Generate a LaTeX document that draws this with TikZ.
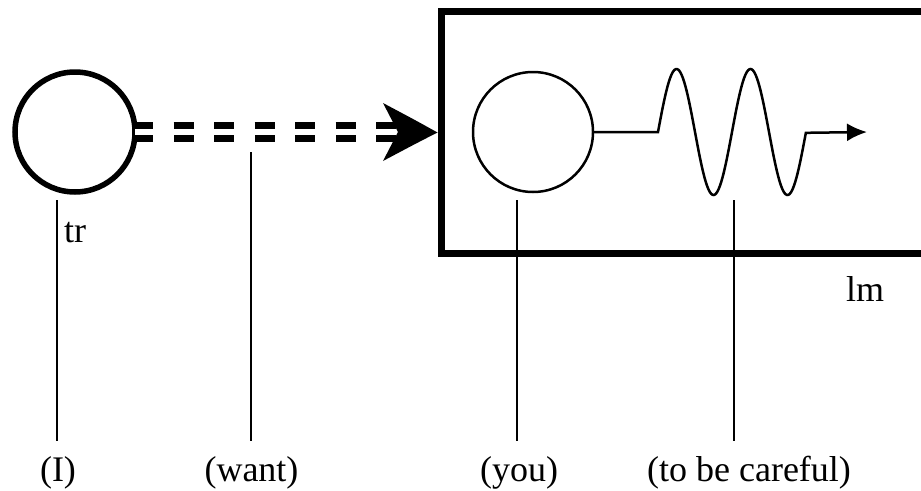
\documentclass[tikz,border=0pt]{standalone}
\usepackage{fontspec}
\setmainfont{Liberation Serif}
\usetikzlibrary{arrows.meta}
\begin{document}
\begin{tikzpicture}[x=1pt,y=-1pt,
  txt/.style={font=\fontsize{36}{40}\selectfont, inner sep=0pt},
  lab/.style={txt, anchor=base},
  leader/.style={line width=1.5pt},
  bigcirc/.style={circle, draw, line width=5.5pt, minimum size=120pt, inner sep=0pt, outer sep=0pt},
  smallcirc/.style={circle, draw, line width=2.5pt, minimum size=120pt, inner sep=0pt, outer sep=0pt},
  frame/.style={draw, line width=7pt, minimum width=520pt, minimum height=242pt, inner sep=0pt, outer sep=0pt, anchor=north west},
  dbl/.style={draw, line width=7pt, double=white, double distance=6pt, dash pattern=on 20pt off 20.5pt, dash phase=2pt},
  wave/.style={line width=2.5pt, -{Latex[length=20pt,width=18pt]}}
]
\useasboundingbox (0,0) rectangle (921,490);
\fill[white] (0,0) rectangle (921,490);

% box
\node[frame] (box) at (441,11.5) {};

% circles
\node[bigcirc] (I) at (75,132) {};
\node[smallcirc] (you) at (533,132) {};

% double dashed connector with arrowhead
\coordinate (dend) at (400,132);
\draw[dbl] (I.east) -- (dend);
\fill ([xshift=-3.5pt]box.west) .. controls (415,120) .. (383,103) -- (398,132) -- (383,161) .. controls (415,144) .. ([xshift=-3.5pt]box.west) -- cycle;

% wave
\coordinate (wend) at (867,132);
\draw[wave] (you.east) -- (658,132) -- plot[domain=0:2, samples=140] ({658+74*\x},{132-63*sin(360*\x)}) -- (wend);

% labels
\node[lab, anchor=base west] (tr) at (64,242) {tr};
\node[lab, anchor=base west] (lm) at (846,301) {lm};
\node[lab] (lI) at (58,481) {(I)};
\node[lab] (lwant) at (251.5,481) {(want)};
\node[lab] (lyou) at (519,481) {(you)};
\node[lab] (lcare) at (749,481) {(to be careful)};

% leaders
\coordinate (pI) at (57,200);
\coordinate (pwant) at (251,152);
\coordinate (pyou) at (517,200);
\coordinate (pcare) at (734,200);
\draw[leader] (pI) -- (pI |- 0,441);
\draw[leader] (pwant) -- (pwant |- 0,441);
\draw[leader] (pyou) -- (pyou |- 0,441);
\draw[leader] (pcare) -- (pcare |- 0,441);
\end{tikzpicture}
\end{document}
